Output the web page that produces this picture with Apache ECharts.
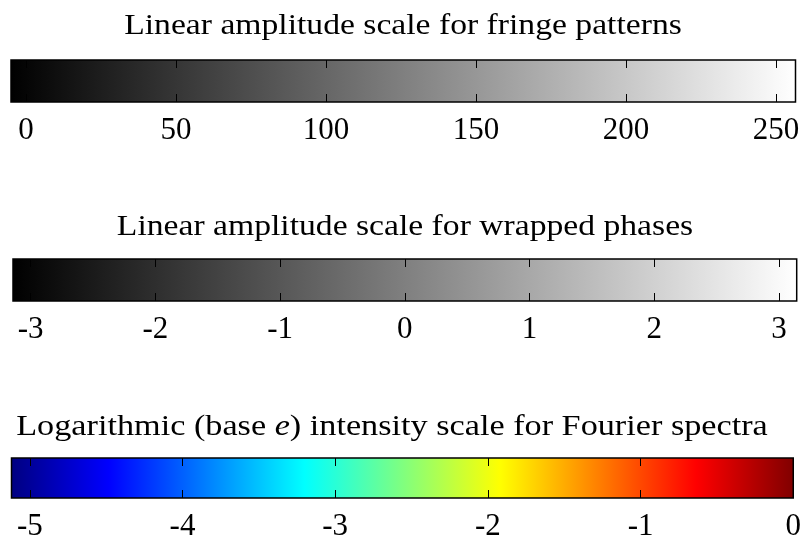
<!DOCTYPE html>
<html>
<head>
<meta charset="utf-8">
<script src="https://cdn.jsdelivr.net/npm/echarts@6/dist/echarts.min.js"></script>
<style>html,body{margin:0;padding:0;background:#fff}#c{width:804px;height:542px}</style>
</head>
<body>
<div id="c"></div>
<script>
// ---- data ----
const titles = [
  'Linear amplitude scale for fringe patterns',
  'Linear amplitude scale for wrapped phases',
  'Logarithmic (base e) intensity scale for Fourier spectra'
];
const grayTicks = [0, 50, 100, 150, 200, 250];
const phaseTicks = [-3, -2, -1, 0, 1, 2, 3];
const logTicks = [-5, -4, -3, -2, -1, 0];
const grayRange = [-5, 256.5];
const phaseRange = [-Math.PI, Math.PI];
const logRange = [-5.12, 0];
const grayStops = ['#000000', '#ffffff'];
const grayStopPos = [0, 1];
const jetStops = ['#000080', '#0000ff', '#00ffff', '#ffff00', '#ff0000', '#800000'];
const jetStopPos = [0, 0.125, 0.375, 0.625, 0.875, 1];

// ---- chart ----
const chart = echarts.init(document.getElementById('c'), null, {renderer: 'canvas'});
const font = '"Liberation Serif", "Times New Roman", serif';
const fs = 31;
const tfs = 29;

const bars = [
  {range: grayRange, ticks: grayTicks, colors: grayStops, pos: grayStopPos, grid: {left: 11, right: 8.5, top: 60, height: 42}},
  {range: phaseRange, ticks: phaseTicks, colors: grayStops, pos: grayStopPos, grid: {left: 13, right: 7.3, top: 259, height: 42}},
  {range: logRange, ticks: logTicks, colors: jetStops, pos: jetStopPos, grid: {left: 11.5, right: 8.7, top: 458, height: 42}}
];

const grids = [], xAxes = [], yAxes = [], series = [];
bars.forEach((b, i) => {
  grids.push(b.grid);
  xAxes.push({
    type: 'value', gridIndex: i, min: b.range[0], max: b.range[1], position: 'bottom', z: 10,
    axisLine: {show: false}, splitLine: {show: false},
    axisTick: {show: true, inside: true, length: 8, customValues: b.ticks, lineStyle: {color: '#000', width: 1}},
    axisLabel: {show: true, customValues: b.ticks, margin: 13, color: '#000', fontFamily: font, fontSize: fs,
      formatter: v => String(v)}
  });
  xAxes.push({
    type: 'value', gridIndex: i, min: b.range[0], max: b.range[1], position: 'top', z: 10,
    axisLine: {show: false}, splitLine: {show: false},
    axisTick: {show: true, inside: true, length: 8, customValues: b.ticks, lineStyle: {color: '#000', width: 1}},
    axisLabel: {show: false}
  });
  yAxes.push({type: 'value', gridIndex: i, min: 0, max: 1, show: false});
  const stops = b.colors.map((c, k) => ({offset: b.pos[k], color: c}));
  series.push({
    type: 'custom', xAxisIndex: i * 2, yAxisIndex: i, z: 1, silent: true,
    data: [[b.range[0], b.range[1]]],
    renderItem: function (params, api) {
      const p0 = api.coord([api.value(0), 0]);
      const p1 = api.coord([api.value(1), 1]);
      return {
        type: 'rect',
        shape: {x: p0[0], y: p1[1], width: p1[0] - p0[0], height: p0[1] - p1[1]},
        style: {fill: new echarts.graphic.LinearGradient(0, 0, 1, 0, stops), stroke: '#000', lineWidth: 1.5}
      };
    }
  });
});

const tStyle = {fontFamily: font, fontSize: tfs, fill: '#000'};
function titleText(text, x, y, sx, rich) {
  return {
    type: 'text', x: x, y: y, scaleX: sx, silent: true,
    style: Object.assign({text: text, align: 'center', verticalAlign: 'middle', rich: rich}, tStyle)
  };
}
chart.setOption({
  animation: false,
  backgroundColor: '#fff',
  graphic: [
    titleText(titles[0], 403, 26, 1.16),
    titleText(titles[1], 405, 227, 1.16),
    titleText('{n|Logarithmic (base }{i|e}{n|) intensity scale for Fourier spectra}', 392, 427, 1.18, {
      n: {fontFamily: font, fontSize: tfs, color: '#000'},
      i: {fontFamily: font, fontSize: tfs, color: '#000', fontStyle: 'italic'}
    })
  ],
  grid: grids,
  xAxis: xAxes,
  yAxis: yAxes,
  series: series
});
</script>
</body>
</html>
